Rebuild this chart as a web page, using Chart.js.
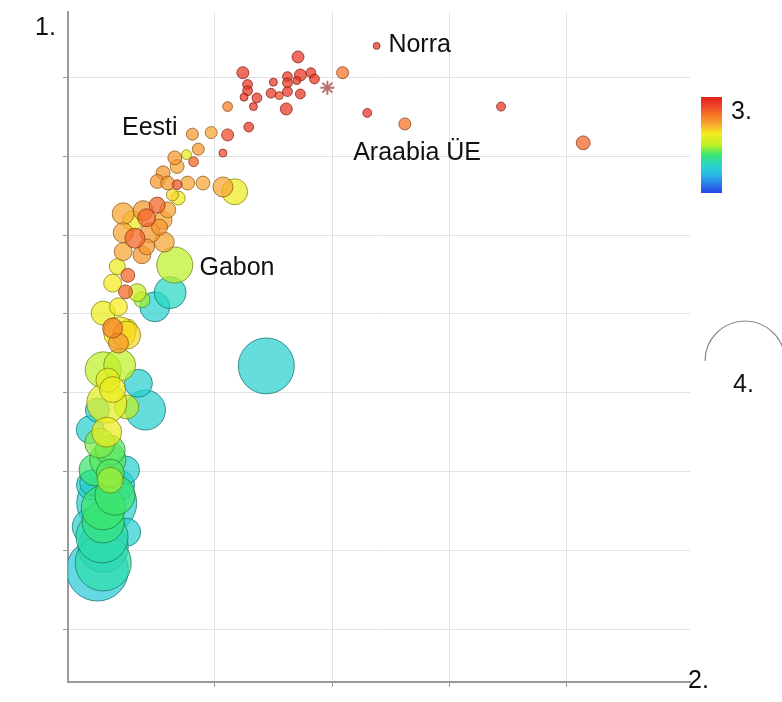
<!DOCTYPE html>
<html lang="et">
<head>
<meta charset="UTF-8">
<title>Mullidiagramm</title>
<script src="https://cdn.jsdelivr.net/npm/chart.js"></script>
<style>
  html, body { margin: 0; padding: 0; background: #fff; }
  .wrap { width: 782px; height: 702px; }
</style>
</head>
<body>
<div class="wrap"><canvas id="chart" width="782" height="702"></canvas></div>
<script>
// values: x = axis 2, y = axis 1, size = legend 4, colour = legend 3 (0 blue .. 1 red)
const xVals = [19.6,14.9,23.4,18.7,19.8,20.7,21.0,19.5,17.5,15.3, 15.3,15.0,16.1,15.8,17.3,18.0,18.7,18.7,19.8,18.6,
  13.6,15.4,13.6,12.2,26.3,25.5,28.7,36.9,43.9,13.2, 10.6,11.1,10.1,10.7,9.1,9.3,8.1,7.6,8.5,9.3,
  10.2,11.5,13.2,14.2,8.9,9.4,4.7,6.4,7.6,6.7, 5.5,8.1,8.5,4.7,5.7,7.0,8.2,7.8,4.7,6.3,
  6.7,9.1,8.7,7.4,4.2,5.1,4.9,3.8,5.9,6.3, 3.0,4.3,3.8,5.1,4.3,5.0,16.9,3.0,4.4,6.0,
  6.6,3.4,3.8,3.3,2.5,5.0,3.3,2.7,3.6,3.4, 3.6,2.1,2.0,3.0,3.6,4.4,2.9,1.9,5.0,3.0,
  2.5,3.0,3.0,1.9,2.3,4.9,4.0,3.3,4.4];
const yVals = [79.3,77.3,77.3,76.8,77.0,77.3,76.5,76.3,76.1,75.8, 75.0,74.2,74.1,73.0,74.7,74.4,76.0,74.9,74.6,72.7,
  73.0,70.4,69.4,69.7,80.7,72.2,70.8,73.0,68.4,67.1, 69.5,67.6,66.9,66.0,66.5,65.4,64.6,63.5,63.3,63.1,
  63.3,63.3,62.8,62.2,61.8,61.4,59.4,59.8,60.5,58.9, 58.5,58.6,59.9,57.0,56.3,57.0,55.8,57.7,54.6,54.2,
  55.2,52.9,49.4,47.6,52.7,51.6,49.5,50.6,49.4,48.5, 46.8,47.6,44.9,44.9,43.0,44.0,40.1,39.6,40.2,37.9,
  34.5,38.3,37.1,35.4,34.5,34.9,31.7,30.3,29.4,28.2, 26.5,25.3,25.0,22.1,25.6,25.0,18.4,19.7,19.0,20.3,
  14.2,15.1,17.1,32.0,26.9,26.9,23.7,22.7,44.3];
const sizeVals = [9,9,9,6,9,6,6,4,4,6, 6,4,6,4,6,4,6,6,6,9,
  6,6,9,9,3,5,9,5,12,4, 9,9,6,6,12,12,12,12,12,6,
  12,12,25,42,9,12,30,25,16,20, 25,20,16,25,25,25,25,16,20,20,
  16,81,64,56,16,12,12,20,20,16, 36,20,25,20,25,49,196,81,64,49,
  100,36,42,100,36,36,56,56,56,81, 49,42,56,121,42,56,169,81,49,110,
  240,196,156,49,64,49,100,225,64];
const colorVals = [0.95,0.95,0.82,0.95,0.95,0.95,0.95,0.95,0.95,0.95, 0.95,0.95,0.95,0.95,0.95,0.88,0.95,0.95,0.95,0.95,
  0.8,0.95,0.9,0.72,0.95,0.95,0.82,0.95,0.85,0.9, 0.75,0.75,0.6,0.85,0.75,0.72,0.75,0.75,0.75,0.88,
  0.72,0.72,0.72,0.6,0.65,0.6,0.72,0.75,0.85,0.85, 0.6,0.72,0.72,0.72,0.85,0.75,0.72,0.75,0.72,0.75,
  0.75,0.5,0.3,0.27,0.6,0.85,0.85,0.62,0.52,0.48, 0.6,0.62,0.8,0.6,0.75,0.65,0.27,0.5,0.5,0.27,
  0.27,0.58,0.6,0.58,0.27,0.5,0.6,0.45,0.42,0.42, 0.42,0.27,0.27,0.4,0.48,0.27,0.33,0.27,0.27,0.38,
  0.25,0.33,0.28,0.27,0.4,0.27,0.4,0.27,0.62];

const starX = [22.1];
const starY = [75.4];

const xTicks = [12.5, 22.5, 32.5, 42.5];
const yTicks = [6.7, 16.7, 26.7, 36.7, 46.7, 56.7, 66.7, 76.7];

const labelTexts = ['Norra', 'Eesti', 'Araabia ÜE', 'Gabon'];
const labelX = [27.3, 4.6, 24.3, 11.2];
const labelY = [80.8, 70.3, 67.1, 52.5];

// colour scale, 0 = blue .. 1 = red
const stops = [
  [0.0, [40, 70, 230]],
  [0.2, [40, 190, 230]],
  [0.3, [40, 215, 195]],
  [0.4, [60, 230, 110]],
  [0.5, [190, 240, 40]],
  [0.62, [245, 235, 30]],
  [0.72, [248, 165, 50]],
  [0.8, [245, 125, 35]],
  [0.9, [240, 70, 40]],
  [1.0, [225, 35, 30]]
];
function rgbFor(c) {
  for (let i = 1; i < stops.length; i++) {
    if (c <= stops[i][0]) {
      const a = stops[i - 1], b = stops[i];
      const t = (c - a[0]) / (b[0] - a[0]);
      return a[1].map((v, k) => Math.round(v + (b[1][k] - v) * t));
    }
  }
  return stops[stops.length - 1][1];
}

// cooler colours underneath, bigger bubbles first within a colour
const points = xVals.map((x, i) => ({ x: x, y: yVals[i], r: 2 * Math.sqrt(sizeVals[i]), c: colorVals[i] }))
  .sort((a, b) => (a.c - b.c) || (b.r - a.r));

const overlay = {
  id: 'overlay',
  afterDatasetsDraw(chart) {
    const ctx = chart.ctx;
    const xs = chart.scales.x, ys = chart.scales.y;
    ctx.save();
    ctx.fillStyle = '#111';
    ctx.font = '25px "Liberation Sans", Arial, sans-serif';
    ctx.textBaseline = 'middle';
    labelTexts.forEach((t, i) => {
      ctx.fillText(t, xs.getPixelForValue(labelX[i]), ys.getPixelForValue(labelY[i]));
    });

    // axis names
    ctx.textBaseline = 'alphabetic';
    ctx.fillText('1.', 35, 35);
    ctx.fillText('2.', 688, 688);

    // colour legend
    const g = ctx.createLinearGradient(0, 97, 0, 193);
    for (let i = stops.length - 1; i >= 0; i--) {
      const c = stops[i][1];
      g.addColorStop(1 - stops[i][0], 'rgb(' + c.join(',') + ')');
    }
    ctx.fillStyle = g;
    ctx.fillRect(701, 97, 21, 96);
    ctx.fillStyle = '#111';
    ctx.fillText('3.', 731, 119);

    // size legend
    ctx.strokeStyle = '#8a8a8a';
    ctx.lineWidth = 1.2;
    ctx.beginPath();
    ctx.arc(745, 361, 40, Math.PI, 2 * Math.PI);
    ctx.stroke();
    ctx.fillText('4.', 733, 392);
    ctx.restore();
  }
};

new Chart(document.getElementById('chart'), {
  type: 'bubble',
  data: {
    datasets: [{
      data: points,
      backgroundColor: ctx => {
        const p = ctx.raw; if (!p) return 'rgba(0,0,0,0)';
        return 'rgba(' + rgbFor(p.c).join(',') + ',0.72)';
      },
      borderColor: ctx => {
        const p = ctx.raw; if (!p) return 'rgba(0,0,0,0)';
        return 'rgba(' + rgbFor(p.c).map(v => Math.round(v * 0.55)).join(',') + ',0.75)';
      },
      borderWidth: 1
    }, {
      data: starX.map((x, i) => ({ x: x, y: starY[i], r: 7 })),
      pointStyle: 'star',
      backgroundColor: 'rgba(0,0,0,0)',
      borderColor: 'rgba(170,90,90,0.85)',
      borderWidth: 2
    }]
  },
  options: {
    responsive: false,
    animation: false,
    layout: { autoPadding: false, padding: { left: 63, top: 12, right: 92, bottom: 15 } },
    plugins: { legend: { display: false }, tooltip: { enabled: false } },
    scales: {
      x: {
        type: 'linear', min: 0, max: 53,
        afterBuildTicks: s => { s.ticks = xTicks.map(v => ({ value: v })); },
        ticks: { display: false },
        grid: { color: '#e2e2e2', tickColor: '#9a9a9a', tickLength: 5 },
        border: { color: '#9a9a9a', width: 2 }
      },
      y: {
        type: 'linear', min: 0, max: 85,
        afterBuildTicks: s => { s.ticks = yTicks.map(v => ({ value: v })); },
        ticks: { display: false },
        grid: { color: '#e2e2e2', tickColor: '#9a9a9a', tickLength: 5 },
        border: { color: '#9a9a9a', width: 2 }
      }
    }
  },
  plugins: [overlay]
});
</script>
</body>
</html>
